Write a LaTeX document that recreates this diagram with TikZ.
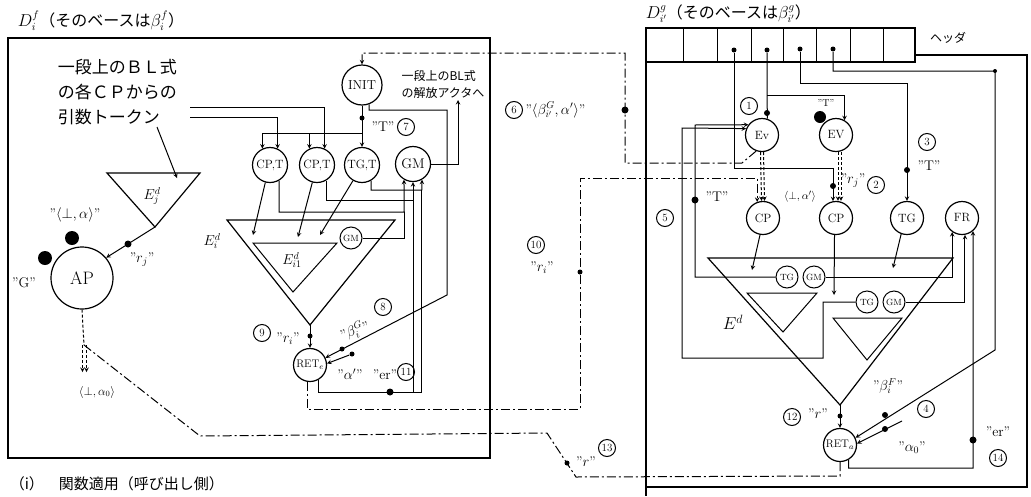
\documentclass[tikz,border=0pt]{standalone}
\usepackage{amsmath,amssymb}
\usepackage{fontspec}
\newfontfamily\jfont{Noto Sans CJK JP}

\begin{document}
\begin{tikzpicture}[x=1pt,y=-1pt,>=stealth,line width=1pt,
  actor/.style={circle,draw,line width=1.2pt,inner sep=0pt,minimum size=33pt,font=\fontsize{12}{12}\selectfont},
  subactor/.style={circle,draw,inner sep=0pt,minimum size=22pt,font=\fontsize{9}{9}\selectfont},
  circnum/.style={circle,draw,inner sep=0pt,minimum size=17pt,font=\fontsize{11}{11}\selectfont},
  tok/.style={circle,fill,inner sep=0pt,minimum size=5pt},
  bigtok/.style={circle,fill,inner sep=0pt,minimum size=14pt},
  lbl/.style={inner sep=1pt,font=\fontsize{14}{14}\selectfont},
  dd/.style={dash pattern=on 9pt off 3pt on 2pt off 3pt},
  dsh/.style={dash pattern=on 3pt off 2pt},
  boxline/.style={line width=1.6pt}]
\useasboundingbox (0,0) rectangle (1031,496);

% --- calling side ---
\node[anchor=west,font=\fontsize{16}{16}\selectfont] (ttlf) at (14,21) {$D^{f}_{i}$\jfont（そのベースは$\beta^{f}_{i}$）};
\draw[boxline] (8,38) rectangle (490,458);
\node[anchor=north west,align=left,font=\jfont\fontsize{17}{25}\selectfont] (argtxt) at (54,55) {一段上のＢＬ式\\の各ＣＰからの\\引数トークン};
\coordinate (arg1) at (190,107);
\coordinate (arg2) at (190,117);

\node[actor,minimum size=40pt,font=\fontsize{13}{13}\selectfont] (init) at (362,85) {INIT};
\node[actor,minimum size=35pt] (cpta) at (270,165) {CP,T};
\node[actor,minimum size=35pt] (cptb) at (317,165) {CP,T};
\node[actor,minimum size=35pt] (tgt) at (362,165) {TG,T};
\node[actor,minimum size=35pt,font=\fontsize{14}{14}\selectfont] (gmt) at (413,164) {GM};
\node[lbl,align=left,font=\jfont\fontsize{12}{17}\selectfont] (reltxt) at (443,84) {一段上のBL式\\の解放アクタへ};

\node[tok] (t7) at (362,118) {};
\draw[->] (init) -- (tgt);
\node[lbl] (q7) at (383,127) {"T"};
\node[circnum] (n7) at (406,127) {7};
\coordinate (t7b) at (362,133);
\draw[->] (t7b) -| (cpta.115);
\draw[->] (t7b) -| (cptb.115);
\draw[->] (arg1) -| (cptb.65);
\draw[->] (arg2) -| (cpta.65);

\draw[->] (gmt.east) -| (458,100);
\draw[->] (cpta.-60) |- (404.25,212) -- (gmt.-120);
\draw[->] (cptb.-60) |- (413,200) -- (gmt.-90);
\draw[->] (tgt.-60) |- (421.75,190) -- (gmt.-60);

% E_i^d
\draw[line width=1.2pt] (227,220) -- (395,220) -- (310,325) coordinate (eiap) -- cycle;
\node[lbl] (eil) at (212,241) {$E^{d}_{i}$};
\draw (253,243) -- (337,243) -- (293,292) -- cycle;
\node[subactor] (gmi) at (351,238) {GM};
\node[lbl] (ei1l) at (292,260) {$E^{d}_{i1}$};
\draw (gmi.east) -| (404.25,212);
\draw[->] (cpta.-105) -- (253,235);
\draw[->] (cptb.-105) -- (298,237);
\draw[->] (tgt.-120) -- (320,235);

\node[actor,font=\fontsize{11}{11}\selectfont] (rete) at (310,365) {RET$_e$};
\node[tok] (t9) at (310,336) {};
\draw[->] (eiap) -- (rete);
\draw[->] (init.-70) |- (447,110) -- (447,295) -- (rete.25);
\node[circnum] (n9) at (262,333) {9};
\node[lbl] (q9) at (288,339) {"$r_i$"};
\node[circnum] (n8) at (383,307) {8};
\node[lbl,rotate=20] (q8) at (355,331) {"$\beta^{G}_{i}$"};
\node[tok] (t8) at (342,349) {};
\node[tok] (ta) at (352,354) {};
\draw[->] (ta) -- (rete.5);
\node[lbl] (qa) at (350,374) {"$\alpha'$"};
\node[lbl] (qer) at (385,375) {"er"};
\node[circnum] (n11) at (406,372) {11};
\draw (rete.-60) |- (421.75,392) -- (421.75,190);
\draw (413,392) -- (413,200);
\node[tok,minimum size=7pt] (t11) at (390,392) {};

% AP and E_j^d
\node[actor,minimum size=62pt,font=\fontsize{18}{18}\selectfont] (ap) at (82,278) {AP};
\node[bigtok] (tka) at (72,238) {};
\node[bigtok] (tkg) at (45,258) {};
\node[lbl] (qa0) at (75,215) {"$\langle\bot,\alpha\rangle$"};
\node[lbl] (qg) at (24,283) {"G"};
\draw[line width=1.2pt] (107,173) -- (200,173) -- (155,227) coordinate (ejap) -- cycle;
\node[lbl] (ejl) at (152,196) {$E^{d}_{j}$};
\coordinate (argp) at (157,127);
\coordinate (ejin) at (177,178);
\draw[->] (argp) -- (ejin);
\draw[->] (ejap) -- (ap.40);
\node[tok,minimum size=7pt] (tj) at (128,244) {};
\node[lbl] (qj) at (142,260) {"$r_j$"};
\draw[dsh] (ap.south) -- (84,345) coordinate (c13);
\draw[dsh,->] (82.5,345) -- (82.5,372);
\draw[dsh,->] (86.5,345) -- (86.5,372);
\node[lbl,font=\fontsize{12}{12}\selectfont] (ret0txt) at (97,392) {$\langle\bot,\alpha_0\rangle$};

% --- called side ---
\node[anchor=west,font=\fontsize{16}{16}\selectfont] (ttlg) at (642,14) {$D^{g}_{i'}$\jfont（そのベースは$\beta^{g}_{i'}$）};
\draw[boxline] (646,28) rectangle (915,62);
\foreach \x in {683,717,751,783,816,850,883}
  \draw (\x,28) -- (\x,62);
\node[font=\jfont\fontsize{12}{12}\selectfont] (hdr) at (948,38) {ヘッダ};
\draw[boxline] (646,62) -- (646,496);
\draw[boxline] (915,55) -- (1027,55) -- (1027,487) -- (646,487);
\node[tok] (h3) at (734,50) {};
\node[tok] (h4) at (767,50) {};
\node[tok] (h5) at (800,49) {};
\node[tok] (h6) at (833,49) {};

\node[actor] (ev1) at (762,135) {Ev};
\node[actor] (ev2) at (836,135) {EV};
\node[actor] (cp1) at (763,218) {CP};
\node[actor] (cp2) at (836,218) {CP};
\node[actor] (tg) at (907,218) {TG};
\node[actor] (fr) at (962,218) {FR};

\node[circnum] (n1) at (749,106) {1};
\draw (h4) -- (ev1.72);
\node[tok,minimum size=6pt] (t1) at (767,113) {};
\coordinate (b1) at (767,95);
\draw[->] (b1) -| (ev2.60);
\node[bigtok,minimum size=12pt] (tkt) at (820,117) {};
\node[lbl,font=\fontsize{10}{10}\selectfont] (qt) at (826,103) {"T"};

\draw[->] (h3) -- (734,168) -| (cp2.100);
\node[tok,minimum size=6pt] (t2) at (833,186) {};
\draw[dsh,->] ([xshift=2pt]ev2.south) -- ([xshift=2pt]cp2.north);
\draw[dsh,->] ([xshift=5pt]ev2.south) -- ([xshift=5pt]cp2.north);
\draw[dsh,->] ([xshift=-1.5pt]ev1.south) -- ([xshift=-1.5pt]cp1.north);
\draw[dsh,->] ([xshift=1.5pt]ev1.south) -- ([xshift=1.5pt]cp1.north);
\node[lbl] (q2) at (853,181) {"$r_j$"};
\node[circnum] (n2) at (876,185) {2};
\node[lbl,font=\fontsize{11}{11}\selectfont] (qbb) at (800,197) {$\langle\bot,\alpha'\rangle$};

\draw[->] (h5) |- (907,83) -- (tg);
\node[tok,minimum size=6pt] (t3) at (907,170) {};
\node[circnum] (n3) at (927,142) {3};
\node[lbl] (q3) at (929,166) {"T"};

% E^d
\draw[line width=1.2pt] (708,258) -- (953,258) -- (840,405) coordinate (edap) -- cycle;
\draw (747,293) -- (817,293) -- (783,332) -- cycle;
\draw (833,318) -- (902,318) -- (867,360) -- cycle;
\node[lbl,font=\fontsize{18}{18}\selectfont] (edl) at (733,322) {$E^{d}$};
\node[subactor] (tga) at (787,277) {TG};
\node[subactor] (gma) at (814,277) {GM};
\node[subactor] (tgb) at (867,302) {TG};
\node[subactor] (gmb) at (894,302) {GM};
\draw[->] (cp1.-100) -- (752,270);
\draw[->] (cp2.-95) -- (834,295);
\draw[->] (tg.-110) -- (893,268);

\draw[->] (tga.west) -| (695,125) -- (ev1.143);
\draw[->] (gma.east) -| (fr.-125);
\draw[->] (tgb.west) -| (823,358) -| (682,128) -- (ev1.158);
\draw[->] (gmb.east) -| (fr.-80);
\node[tok,minimum size=7pt] (t5) at (695,200) {};
\node[lbl] (q5) at (717,197) {"T"};
\node[circnum] (n5) at (665,218) {5};

\node[actor,font=\fontsize{11}{11}\selectfont] (reto) at (840,445) {RET$_a$};
\node[tok] (t12) at (840,416) {};
\draw[->] (edap) -- (reto);
\node[circnum] (n12) at (792,417) {12};
\node[lbl] (q12) at (818,414) {"$r$"};

\draw[->] (h6) |- (995,71) -- (995,350) -- (reto.25);
\node[tok,minimum size=4pt] (t4a) at (995,71) {};
\node[tok,minimum size=6pt] (t4b) at (885,415) {};
\coordinate (a0) at (902,421);
\draw[->] (a0) -- (reto.5);
\node[tok,minimum size=6pt] (t4c) at (885,429) {};
\node[lbl] (q4b) at (888,386) {"$\beta^{F}_{i}$"};
\node[circnum] (n4) at (926,409) {4};
\node[lbl] (q4a) at (912,448) {"$\alpha_0$"};
\draw[->] (reto.-60) |- (973,468) -- (fr.-50);
\node[tok,minimum size=7pt] (t14) at (973,440) {};
\node[lbl] (q14) at (998,432) {"er"};
\node[circnum] (n14) at (998,458) {14};

% --- token paths between the two sides ---
\draw[dd,->] (ev1.-110) -- (742,163) -- (625,163) -- (625,53) -- (362,53) -- (init);
\node[tok,minimum size=7pt] (t6) at (625,110) {};
\node[circnum] (n6) at (514,110) {6};
\node[lbl,anchor=west] (q6) at (524,110) {"$\langle\beta^{G}_{i'},\alpha'\rangle$"};

\draw[dd,->] (rete.-100) |- (580,409) -- (580,178) -| (cp1.110);
\node[tok] (t10) at (580,272) {};
\node[circnum] (n10) at (536,245) {10};
\node[lbl] (q10) at (542,268) {"$r_i$"};

\draw[dd] (c13) -- (200,436) -- (547,433) -- (576,477) -- (840,476) -- (reto.south);
\node[tok] (t13) at (567,463) {};
\node[lbl] (q13) at (586,462) {"$r$"};
\node[circnum] (n13) at (607,448) {13};

\node[anchor=west,font=\jfont\fontsize{15}{15}\selectfont] (cap) at (6,484) {（i）\quad 関数適用（呼び出し側）};
\end{tikzpicture}
\end{document}
